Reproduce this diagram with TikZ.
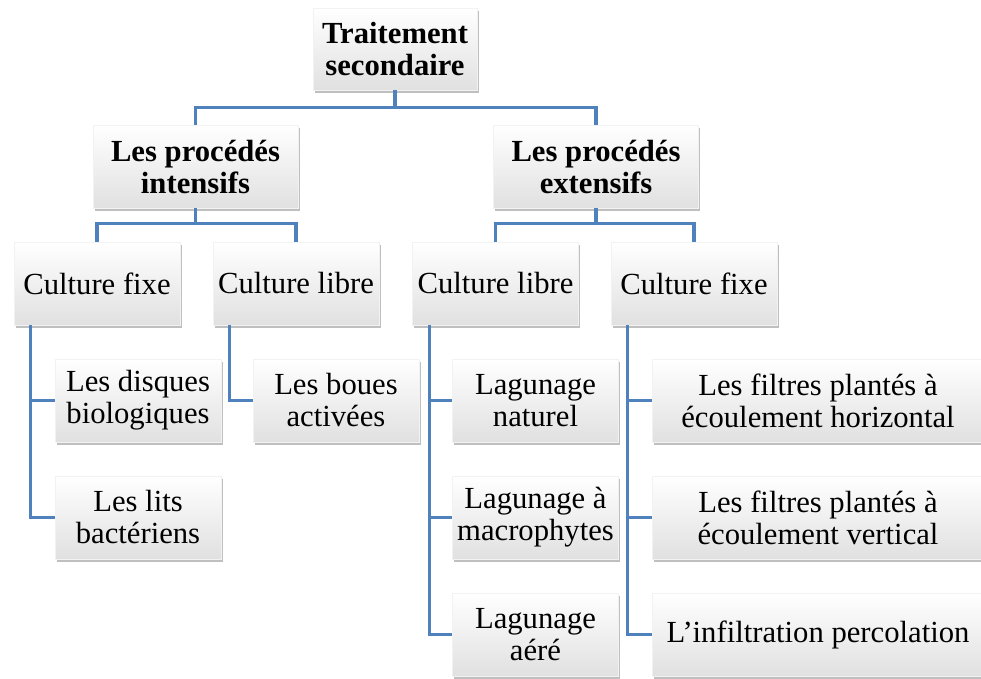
\documentclass[tikz,border=0pt]{standalone}
\usepackage{fontspec}
\setmainfont{Liberation Serif}
\usepackage{tikz}
\tikzset{>=latex}
\usetikzlibrary{shadows}
\definecolor{linkblue}{RGB}{79,129,189}

\begin{document}
\begin{tikzpicture}[x=0.75pt,y=-0.75pt,
	box/.style={top color=white,middle color=white,bottom color=black!12,draw=black!5,line width=0.4pt,
		drop shadow={shadow xshift=1.2pt,shadow yshift=-2.4pt,opacity=0.5},
		inner sep=0pt,align=center,minimum width=124.5pt,minimum height=62.25pt,
		font=\fontsize{23}{24}\selectfont},
	head/.style={box,font=\fontsize{23}{24}\selectfont\bfseries},
	wide/.style={box,minimum width=249pt},
	link/.style={draw=linkblue,line width=2.6pt}]
		\useasboundingbox (0,0) rectangle (981,678);
		% niveaux 0 et 1
		\node[head,minimum width=123pt,minimum height=61.5pt] (trait) at (395,49) {Traitement\\secondaire};
		\node[head,minimum width=153.75pt] (intens) at (195.5,166.5) {Les procédés\\intensifs};
		\node[head,minimum width=153.75pt] (extens) at (596,166.5) {Les procédés\\extensifs};
		% niveau 2
		\node[box] (cfixeA) at (97,283.5) {Culture fixe};
		\node[box] (clibreA) at (296,283.5) {Culture libre};
		\node[box] (clibreB) at (495.5,283.5) {Culture libre};
		\node[box] (cfixeB) at (694,283.5) {Culture fixe};
		% feuilles
		\node[box] (disques) at (138,400.5) {Les disques\\biologiques};
		\node[box] (lits) at (138,517.5) {Les lits\\bactériens};
		\node[box] (boues) at (336,400.5) {Les boues\\activées};
		\node[box] (lagnat) at (535.5,400.5) {Lagunage\\naturel};
		\node[box] (lagmac) at (535.5,517.5) {Lagunage à\\macrophytes};
		\node[box] (lagaer) at (535.5,634.5) {Lagunage\\aéré};
		\node[wide] (filtH) at (818,400.5) {Les filtres plantés à\\écoulement horizontal};
		\node[wide] (filtV) at (818,517.5) {Les filtres plantés à\\écoulement vertical};
		\node[wide] (infil) at (818,634.5) {L’infiltration percolation};
		% liaisons
		\draw[link] (trait.south) -- ++(0,17) -| (intens.north);
		\draw[link] (trait.south) -- ++(0,17) -| (extens.north);
		\draw[link] (intens.south) -- ++(0,15) -| (cfixeA.north);
		\draw[link] (intens.south) -- ++(0,15) -| (clibreA.north);
		\draw[link] (extens.south) -- ++(0,15) -| (clibreB.north);
		\draw[link] (extens.south) -- ++(0,15) -| (cfixeB.north);
		\draw[link] ([xshift=12.75pt]cfixeA.south west) |- (disques.west);
		\draw[link] ([xshift=12.75pt]cfixeA.south west) |- (lits.west);
		\draw[link] ([xshift=12.75pt]clibreA.south west) |- (boues.west);
		\draw[link] ([xshift=12.75pt]clibreB.south west) |- (lagnat.west);
		\draw[link] ([xshift=12.75pt]clibreB.south west) |- (lagmac.west);
		\draw[link] ([xshift=12.75pt]clibreB.south west) |- (lagaer.west);
		\draw[link] ([xshift=12.75pt]cfixeB.south west) |- (filtH.west);
		\draw[link] ([xshift=12.75pt]cfixeB.south west) |- (filtV.west);
		\draw[link] ([xshift=12.75pt]cfixeB.south west) |- (infil.west);
\end{tikzpicture}
\end{document}
